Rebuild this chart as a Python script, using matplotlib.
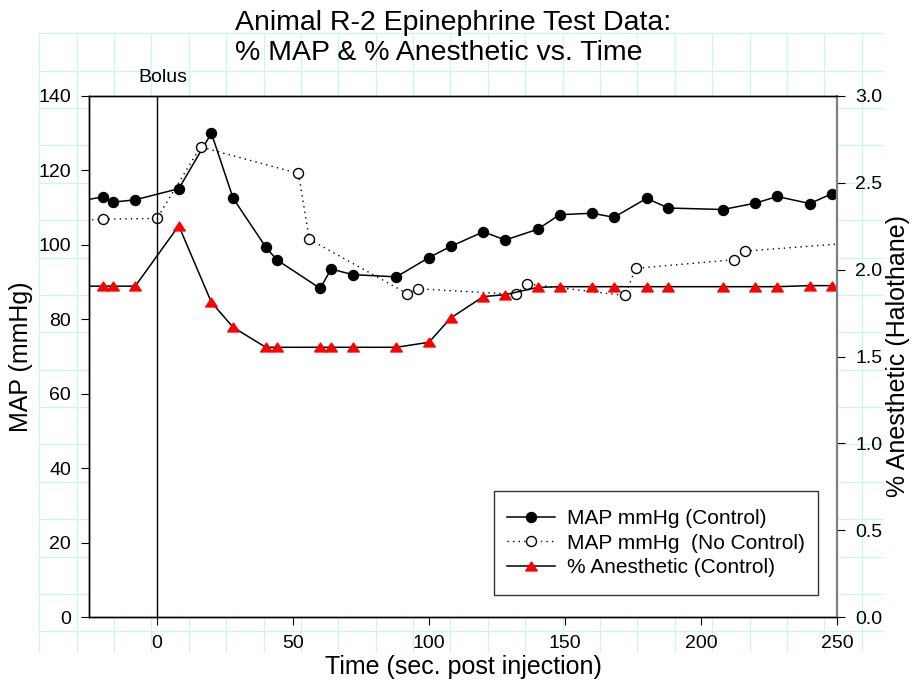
import matplotlib
matplotlib.use("Agg")
import matplotlib.pyplot as plt
from matplotlib.path import Path
from matplotlib.patches import Rectangle
import numpy as np

plt.rcParams['font.family'] = ['Liberation Sans', 'DejaVu Sans']

# time (sec. post injection) for the controlled run; first point lies left of the axis
t_ctrl = [-28, -20, -16, -8, 8, 20, 28, 40, 44, 60, 64, 72, 88, 100, 108, 120,
          128, 140, 148, 160, 168, 180, 188, 208, 220, 228, 240, 248]
map_ctrl = [111.8, 112.9, 111.5, 112.1, 115.1, 130.0, 112.5, 99.4, 96.0, 88.3,
            93.5, 92.0, 91.4, 96.6, 99.6, 103.5, 101.3, 104.2, 108.1, 108.5,
            107.4, 112.5, 109.9, 109.5, 111.2, 113.0, 111.1, 113.7]
anes_ctrl = [1.905, 1.905, 1.905, 1.905, 2.253, 1.812, 1.668, 1.553, 1.553,
             1.553, 1.553, 1.553, 1.553, 1.582, 1.722, 1.845, 1.856, 1.898,
             1.902, 1.902, 1.902, 1.902, 1.902, 1.902, 1.902, 1.902, 1.908, 1.908]

# uncontrolled run (points outside the axis range keep the line going to the edges)
t_noctrl = [-28, -20, 0, 16, 52, 56, 92, 96, 132, 136, 172, 176, 212, 216, 264]
map_noctrl = [106.6, 106.9, 107.1, 126.3, 119.2, 101.5, 86.9, 88.2, 86.7, 89.5,
              86.4, 93.7, 96.0, 98.3, 101.0]

x_ticks = [0, 50, 100, 150, 200, 250]
y_ticks = [0, 20, 40, 60, 80, 100, 120, 140]
y2_ticks = [0.0, 0.5, 1.0, 1.5, 2.0, 2.5, 3.0]

W, H = 915, 687
fig = plt.figure(figsize=(W / 100, H / 100), dpi=100)

# graph-paper background behind everything
bg = fig.add_axes([0, 0, 1, 1], zorder=-1)
bg.set_xlim(0, W)
bg.set_ylim(H, 0)
bg.axis('off')
step = 37.38
gx = 39.3 + step * np.arange(23)
gy = 33.3 + step * np.arange(17)
bg.vlines(gx, 33.3, 651.7, color='#c4f7f7', lw=0.8)
bg.hlines(gy, 39.3, 882.7, color='#c4f7f7', lw=0.8)

ax = fig.add_axes([89 / W, 1 - 617 / H, 748 / W, 521 / H])
ax2 = ax.twinx()

tri = Path([(-1, -0.77), (1, -0.77), (0, 0.77), (-1, -0.77)],
           [Path.MOVETO, Path.LINETO, Path.LINETO, Path.CLOSEPOLY])

l1, = ax.plot(t_ctrl, map_ctrl, color='black', lw=1.1, marker='o', ms=7.2,
              mfc='black', mec='black', label='MAP mmHg (Control)')
l2, = ax.plot(t_noctrl, map_noctrl, color='black', lw=1.0, dashes=(1, 3),
              marker='o', ms=7.2, mfc='white', mec='black', mew=1.0,
              label='MAP mmHg  (No Control)')
l3, = ax2.plot(t_ctrl, anes_ctrl, color='black', lw=1.1, marker=tri, ms=8.3,
               mfc='red', mec='red', label='% Anesthetic (Control)')

ax.axvline(0, color='black', lw=1.0)
ax.text(2.2, 1.027, 'Bolus', transform=ax.get_xaxis_transform(),
        ha='center', va='baseline', fontsize=14)

ax.set_xlim(-25, 250)
ax.set_ylim(0, 140)
ax2.set_ylim(0, 3.0)
ax.set_xticks(x_ticks)
ax.set_yticks(y_ticks)
ax2.set_yticks(y2_ticks)
ax2.set_yticklabels([f'{v:.1f}' for v in y2_ticks])

for a in (ax, ax2):
    a.tick_params(direction='out', length=5.5, width=0.8, pad=7.5, labelsize=14)
    for s in a.spines.values():
        s.set_linewidth(1.0)
ax2.spines['right'].set_color('#808080')
ax2.spines['right'].set_linewidth(1.6)
ax.spines['right'].set_visible(False)

ax.set_xlabel('Time (sec. post injection)', fontsize=18)
ax.xaxis.set_label_coords(0.5, -0.072)
ax.set_ylabel('MAP (mmHg)', fontsize=18)
ax.yaxis.set_label_coords(-0.075, 0.5)
ax2.set_ylabel('% Anesthetic (Halothane)', fontsize=18)
ax2.yaxis.set_label_coords(1.065, 0.5)

# two-line title, left aligned; y is the baseline of the second line
fig.text(235 / W, 1 - 60 / H,
         'Animal R-2 Epinephrine Test Data:\n% MAP & % Anesthetic vs. Time',
         ha='left', va='baseline', fontsize=20.5, multialignment='left')

# legend box drawn separately so it can be taller than the default padding gives
box = Rectangle((0.5414, 0.0422), 0.4332, 0.1996, transform=ax2.transAxes,
                facecolor='white', edgecolor='#333333', lw=1.0, zorder=4)
ax2.add_patch(box)
leg = ax2.legend(handles=[l1, l2, l3], loc='center',
                 bbox_to_anchor=(0.758, 0.142), borderaxespad=0,
                 fontsize=15, numpoints=1, handlelength=2.27,
                 handletextpad=0.58, borderpad=0.68, labelspacing=0.27,
                 frameon=False)
leg.set_zorder(5)

fig.savefig('out.png', dpi=100)
